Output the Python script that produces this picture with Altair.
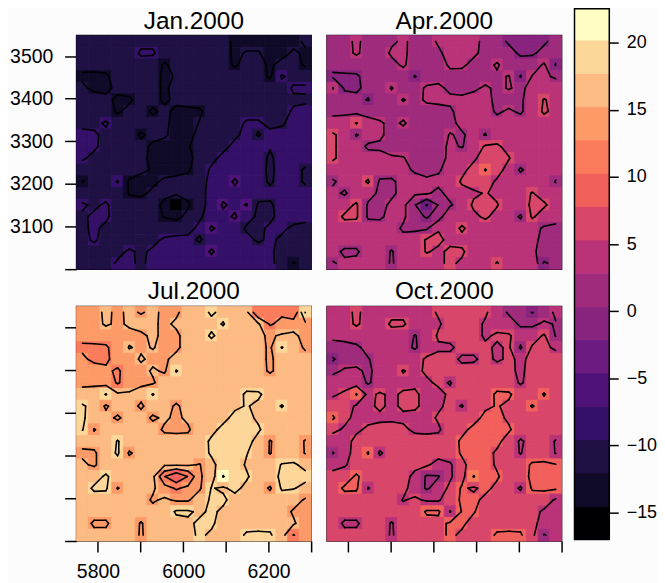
import altair as alt
import pandas as pd

BREAKS = [-17, -14.52, -12.04, -9.56, -7.08, -4.6, -2.12, 0.36, 2.84, 5.32, 7.8, 10.28, 12.76, 15.24, 17.72, 20.2, 22.68]
COLORS = ["#000004", "#0F0A28", "#1F1144", "#351068", "#4E1279", "#6C1C80", "#88237E", "#9F2B7D",
          "#BA3378", "#D8466A", "#F2605C", "#FB7C5C", "#FD9B68", "#FDBB84", "#FDD699", "#FEFEC4"]
MONTHS = ["Jan.2000", "Apr.2000", "Jul.2000", "Oct.2000"]
Y_TICKS = [3000, 3100, 3200, 3300, 3400, 3500]
X_TICKS = [5800, 5900, 6000, 6100, 6200, 6300]
BAR_TICKS = [-15, -10, -5, 0, 5, 10, 15, 20]

# Colour class of each grid cell (hex digit = class in COLORS, top row first)
JAN = ["22222222222221111112", "22222332222221221121", "22222221222221221221", "11122221222222221322",
       "21122221222222222233", "22211221222222222222", "22212212111222222233", "22322222112222332233",
       "33222122112222323333", "33222211112223333333", "32222211112233332333", "22222211112333332332",
       "12231112222334332332", "22221122222333333333", "32322221012343422333", "23322221122334322333",
       "23222222223433223322", "23222223332333323222", "22223233333433333222", "22233233333333333212"]
APR = ["77877787788887766667", "77877887778887776677", "77777787778877877786", "66677776777777786887",
       "86677877887778787888", "77767787888888777898", "77777777777888787898", "88988787777888888888",
       "98788777778787888888", "98877777778789988888", "98888887778889998888", "8888888777889a987888",
       "78897788888999888887", "87887788878889888988", "88977887577899988998", "89977887678889887988",
       "88888877788988888877", "88888888998888888877", "87788788989988888877", "78888788889888988867"]
JUL = ["ccdcdcdccddedddbbbbe", "ccdcdddcddddedddbccc", "ccccccdccddeddddcddc", "bbbcdcdccdddddddcedc",
       "cbbccdccddddddddcddd", "cccbccdcedddddddcddd", "cccbcccddddddddddddd", "ddedddedddddddeedddd",
       "edcddcddcdddddeddedd", "eddcddcdcddddeeddddd", "ecdddddcccddeeeedddd", "dddedddddddeeeedcddc",
       "ccdecddddddeeeedcddc", "dcddddddddcdeedddeed", "ddeddddbabcdfeeddeee", "deecdddcbccededdceed",
       "ddddddcdccdeeddddddc", "ddddddddeededdddddcc", "dccddcddddeedddddddc", "dddddcddddedddeeedbc"]
OCT = ["88988888899999877678", "88988998889998887787", "88888887899998998897", "77788887888999897998",
       "67778888999889898999", "78878898999999998999", "88878888898999998999", "89a89899889999aa99a9",
       "99889899889899a99a99", "a988888889999aa99999", "988999988899aaaa9999", "88999999999aaaa98998",
       "789a8999999aaa998998", "889999999889aa999aaa", "99a999987789baa99aaa", "9aa89998789a9a998aaa",
       "99999989889aa9999998", "99999999aa8aa9999988", "9889989999aa99999988", "9999989999a999aaa978"]
# Cells whose value sits just inside the lower or upper edge of their class
JAN_LOW = [(14, 14), (1, 14), (1, 15), (9, 16), (12, 3), (7, 10), (3, 8)]
JAN_HIGH = [(8, 15), (13, 4), (11, 6), (9, 9), (15, 7), (12, 0), (19, 18)]
APR_LOW = [(4, 0), (4, 5), (5, 6), (11, 13), (7, 2), (5, 18), (13, 13), (13, 17), (14, 14), (10, 15),
           (10, 5), (10, 6), (8, 10), (19, 14), (18, 8), (14, 7), (14, 9), (3, 17), (4, 15), (3, 15)]
APR_HIGH = [(2, 19), (3, 7), (5, 3), (8, 13), (9, 11), (12, 19), (19, 0), (18, 5), (19, 5), (14, 8),
            (3, 16), (8, 2), (15, 10), (16, 9), (19, 17)]
JUL_LOW = [(0, 19), (3, 4), (3, 6), (3, 17), (7, 2), (7, 6), (8, 17), (14, 8), (14, 12), (14, 7), (14, 9),
           (5, 8), (1, 12), (0, 15), (0, 18), (8, 14), (12, 14), (13, 17), (15, 18), (15, 11), (10, 0), (11, 3)]
JUL_HIGH = [(10, 1), (0, 5), (13, 10), (15, 3), (18, 5), (19, 5), (11, 19), (12, 19), (11, 16), (12, 16), (19, 18)]
OCT_LOW = [(7, 2), (14, 12), (7, 18), (8, 17), (5, 6), (13, 19), (8, 14), (17, 11), (17, 12), (12, 3)]
OCT_HIGH = [(0, 17), (15, 3), (17, 10), (11, 19), (12, 19), (1, 19), (2, 19), (18, 5), (19, 5), (8, 11),
            (16, 6), (2, 7), (12, 16), (14, 9), (19, 18), (12, 0), (6, 10), (4, 3)]

X0, DX = 5750, 27.5
Y1, DY = 3548, 27.4
N = 20


def temps(rows, low, high):
    """Place each cell inside its colour class, leaning to its neighbours, unless marked low or high."""
    mids = [[(BREAKS[int(ch, 16)] + BREAKS[int(ch, 16) + 1]) / 2 for ch in row] for row in rows]
    grid = []
    for r, row in enumerate(rows):
        line = []
        for c, ch in enumerate(row):
            k = int(ch, 16)
            lo, hi = BREAKS[k], BREAKS[k + 1]
            if (r, c) in low:
                v = lo + 0.12
            elif (r, c) in high:
                v = hi - 0.12
            else:
                around = [mids[i][j] for i in range(max(r - 1, 0), min(r + 2, N))
                          for j in range(max(c - 1, 0), min(c + 2, N)) if (i, j) != (r, c)]
                v = mids[r][c] + 0.7 * (sum(around) / len(around) - mids[r][c])
                v = min(max(v, lo + 0.3), hi - 0.3)
            line.append(v)
        grid.append(line)
    return grid


def cx(c):
    return X0 + DX * (c + 0.5)


def cy(r):
    return Y1 - DY * (r + 0.5)


def contour_segments(grid):
    segs = []
    for level in BREAKS[1:-1]:
        for r in range(N - 1):
            for c in range(N - 1):
                a, b, d, e = grid[r][c], grid[r][c + 1], grid[r + 1][c + 1], grid[r + 1][c]
                pts = []
                if (a > level) != (b > level):
                    pts.append((cx(c + (level - a) / (b - a)), cy(r)))
                if (b > level) != (d > level):
                    pts.append((cx(c + 1), cy(r + (level - b) / (d - b))))
                if (d > level) != (e > level):
                    pts.append((cx(c + (level - e) / (d - e)), cy(r + 1)))
                if (e > level) != (a > level):
                    pts.append((cx(c), cy(r + (level - a) / (e - a))))
                if len(pts) == 2:
                    pairs = [(pts[0], pts[1])]
                elif len(pts) == 4:
                    if ((a + b + d + e) / 4 > level) == (a > level):
                        pairs = [(pts[0], pts[1]), (pts[2], pts[3])]
                    else:
                        pairs = [(pts[3], pts[0]), (pts[1], pts[2])]
                else:
                    pairs = []
                for p, q in pairs:
                    segs.append({"sx": p[0], "sy": p[1], "ex": q[0], "ey": q[1]})
    return pd.DataFrame(segs)


def cells(grid):
    out = []
    for r in range(N):
        for c in range(N):
            out.append({"x0": X0 + DX * c, "x1": X0 + DX * (c + 1), "y0": Y1 - DY * (r + 1), "y1": Y1 - DY * r,
                        "t": grid[r][c]})
    return pd.DataFrame(out)


color_scale = alt.Scale(type="threshold", domain=BREAKS[1:-1], range=COLORS)
x_scale = alt.Scale(domain=[5750, 6300], nice=False, zero=False)
y_scale = alt.Scale(domain=[3000, 3548], nice=False, zero=False)
FONT = "Liberation Sans"


def panel(rows, low, high, name, left, bottom, labels_left, labels_bottom):
    grid = temps(rows, low, high)
    if bottom:
        x_axis = alt.Axis(values=X_TICKS, title=None, grid=False, domain=False, tickSize=11, tickWidth=1.5,
                          tickColor="black", labels=labels_bottom, labelFontSize=19.5, labelFont=FONT,
                          labelColor="black", labelPadding=11,
                          labelExpr="indexof([5800,6000,6200], datum.value) >= 0 ? datum.label : ''", format="d")
    else:
        x_axis = None
    if left:
        y_axis = alt.Axis(values=Y_TICKS, title=None, grid=False, domain=False, tickSize=12, tickWidth=1.5,
                          tickColor="black", labels=labels_left, labelFontSize=19.5, labelFont=FONT,
                          labelColor="black", labelPadding=12,
                          labelExpr="datum.value == 3000 ? '' : datum.label", format="d")
    else:
        y_axis = None
    rect = alt.Chart(cells(grid)).mark_rect(strokeWidth=0.9).encode(
        x=alt.X("x0:Q", scale=x_scale, axis=x_axis),
        x2="x1:Q",
        y=alt.Y("y0:Q", scale=y_scale, axis=y_axis),
        y2="y1:Q",
        color=alt.Color("t:Q", scale=color_scale, legend=None),
        stroke=alt.Stroke("t:Q", scale=color_scale, legend=None),
    )
    lines = alt.Chart(contour_segments(grid)).mark_rule(color="black", strokeWidth=1.6, strokeCap="round").encode(
        x=alt.X("sx:Q", scale=x_scale, axis=x_axis),
        x2="ex:Q",
        y=alt.Y("sy:Q", scale=y_scale, axis=y_axis),
        y2="ey:Q",
    )
    title = alt.Chart(pd.DataFrame({"name": [name]})).mark_text(
        fontSize=24.5, font=FONT, color="black", align="center", baseline="middle",
    ).encode(text="name:N", x=alt.value(118), y=alt.value(-14))
    return alt.layer(rect, lines, title).properties(width=236, height=235 if not bottom else 236)


p1 = panel(JAN, JAN_LOW, JAN_HIGH, MONTHS[0], True, False, True, False)
p2 = panel(APR, APR_LOW, APR_HIGH, MONTHS[1], False, False, False, False)
p3 = panel(JUL, JUL_LOW, JUL_HIGH, MONTHS[2], True, True, False, True)
p4 = panel(OCT, OCT_LOW, OCT_HIGH, MONTHS[3], False, True, False, False)

bar_df = pd.DataFrame({
    "lo": BREAKS[:-1],
    "hi": BREAKS[1:],
    "t": [(a + b) / 2 for a, b in zip(BREAKS[:-1], BREAKS[1:])],
})
# The bar starts above the panels: its scale runs past the top of the aligned plot band.
bar_scale = alt.Scale(domain=[-17, 22.53], range=[507, -27], nice=False, zero=False, clamp=True)
bar_cells = alt.Chart(bar_df).mark_rect(strokeWidth=0.9).encode(
    y=alt.Y("lo:Q", scale=bar_scale,
            axis=alt.Axis(orient="right", values=BAR_TICKS, title=None, grid=False, domain=False, tickSize=9,
                          tickWidth=1.5, tickColor="black", labelFontSize=18, labelFont=FONT, labelColor="black",
                          labelPadding=8, format="d")),
    y2="hi:Q",
    color=alt.Color("t:Q", scale=color_scale, legend=None),
    stroke=alt.Stroke("t:Q", scale=color_scale, legend=None),
)
bar_frame = alt.Chart(pd.DataFrame({"lo": [BREAKS[0]], "hi": [BREAKS[-1]]})).mark_rect(
    fillOpacity=0, stroke="black", strokeWidth=1.5, clip=False,
).encode(y=alt.Y("lo:Q", scale=bar_scale), y2="hi:Q")
bar = alt.layer(bar_cells, bar_frame).properties(width=35, height=507, view=alt.ViewConfig(stroke=None))

block = alt.concat(p1, p2, p3, p4, columns=2, spacing=alt.RowColnumber(row=7.5, column=12))

chart = alt.concat(block, bar, columns=2, spacing=10, bounds="full").properties(
    padding={"left": 0, "top": -2, "right": 0, "bottom": 0}, background="#FCFCFC",
).configure_view(stroke="black", strokeWidth=1.5)

chart.save("out.html", embed_options={"renderer": "svg", "actions": False})
